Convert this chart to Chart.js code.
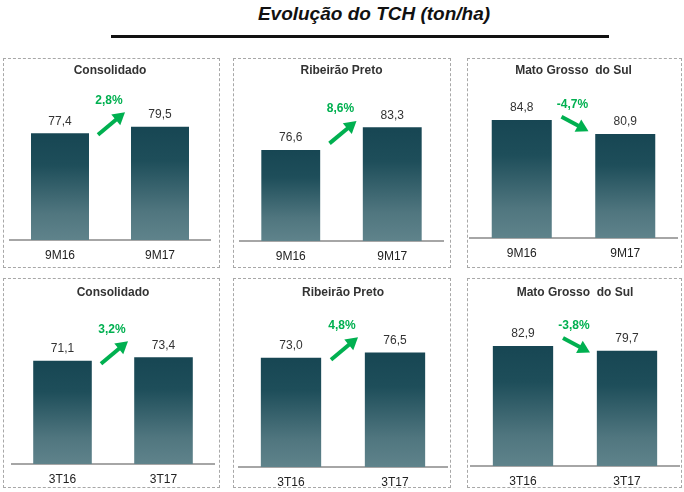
<!DOCTYPE html>
<html>
<head>
<meta charset="utf-8">
<script src="https://cdn.jsdelivr.net/npm/chart.js@4.4.0/dist/chart.umd.min.js"></script>
<style>
  html, body { margin: 0; padding: 0; background: #fff; }
  body { width: 684px; height: 492px; position: relative; overflow: hidden; font-family: "Liberation Sans", Arial, sans-serif; }
  #title { position: absolute; left: 0; width: 684px; top: 3px; text-align: center; padding-left: 64px; box-sizing: border-box;
           font-size: 19px; font-weight: bold; font-style: italic; color: #111; }
  #rule { position: absolute; left: 111px; top: 35px; width: 498px; height: 3px; background: #111; }
  .panel { position: absolute; border: 1px dashed #a8a8a8; box-sizing: border-box; }
  .panel canvas { position: absolute; left: 0; top: 0; }
</style>
</head>
<body>
<div id="title">Evolução do TCH (ton/ha)</div>
<div id="rule"></div>

<script>
// ---- data ----
var periods9M = ['9M16', '9M17'];
var periods3T = ['3T16', '3T17'];
var consolidado9M = [77.4, 79.5];
var ribeirao9M = [76.6, 83.3];
var matoGrosso9M = [84.8, 80.9];
var consolidado3T = [71.1, 73.4];
var ribeirao3T = [73.0, 76.5];
var matoGrosso3T = [82.9, 79.7];
var panelTitles = ['Consolidado', 'Ribeirão Preto', 'Mato Grosso  do Sul', 'Consolidado', 'Ribeirão Preto', 'Mato Grosso  do Sul'];
var variations = ['2,8%', '8,6%', '-4,7%', '3,2%', '4,8%', '-3,8%'];

var panels = [
    { labels: periods9M, values: consolidado9M },
    { labels: periods9M, values: ribeirao9M },
    { labels: periods9M, values: matoGrosso9M },
    { labels: periods3T, values: consolidado3T },
    { labels: periods3T, values: ribeirao3T },
    { labels: periods3T, values: matoGrosso3T }
];

// ---- layout (page pixels) ----
// base = page y of the x axis line, areaL/areaR = horizontal extent of the plot
var boxes = [
    { x: 3, y: 58, w: 217, h: 210, areaL: 10, areaR: 210, base: 240, yMin: 43.45, yMax: 88.3, titlePad: 4, tickPad: 8.5 },
    { x: 233, y: 58, w: 218, h: 210, areaL: 240, areaR: 443, base: 241, yMin: 49.74, yMax: 91.65, titlePad: 4, tickPad: 8.5 },
    { x: 467, y: 58, w: 215, h: 210, areaL: 470, areaR: 677, base: 238, yMin: 51.93, yMax: 90.65, titlePad: 4, tickPad: 8.5 },
    { x: 3, y: 278, w: 217, h: 210, areaL: 12, areaR: 214, base: 464, yMin: 0, yMax: 99.8, titlePad: 6, tickPad: 8 },
    { x: 233, y: 278, w: 218, h: 210, areaL: 239, areaR: 447, base: 467, yMin: 0, yMax: 98.8, titlePad: 6, tickPad: 8 },
    { x: 467, y: 278, w: 215, h: 210, areaL: 471, areaR: 679, base: 466, yMin: 0, yMax: 101.55, titlePad: 6, tickPad: 8 }
];

var FONT = '"Liberation Sans", Arial, sans-serif';
var GREEN = '#00b050';
var TICK_LINE = 14.4;

function fmt(v) {
    return v.toFixed(1).replace('.', ',');
}

function barGradient(ctx) {
    var chart = ctx.chart;
    if (!chart.chartArea) return '#1d4d59';
    var top = chart.scales.y.getPixelForValue(ctx.raw);
    var bottom = chart.chartArea.bottom;
    var g = chart.ctx.createLinearGradient(0, top, 0, bottom);
    g.addColorStop(0, '#174653');
    g.addColorStop(0.3, '#1e4e5a');
    g.addColorStop(0.75, '#50767f');
    g.addColorStop(1, '#5f838b');
    return g;
}

function drawArrow(c, x1, y1, x2, y2) {
    var ang = Math.atan2(y2 - y1, x2 - x1);
    var head = 12, half = 7;
    var bx = x2 - head * Math.cos(ang), by = y2 - head * Math.sin(ang);
    c.save();
    c.strokeStyle = GREEN;
    c.fillStyle = GREEN;
    c.lineWidth = 4;
    c.beginPath();
    c.moveTo(x1, y1);
    c.lineTo(bx + Math.cos(ang), by + Math.sin(ang));
    c.stroke();
    c.beginPath();
    c.moveTo(x2, y2);
    c.lineTo(bx + half * Math.sin(ang), by - half * Math.cos(ang));
    c.lineTo(bx - half * Math.sin(ang), by + half * Math.cos(ang));
    c.closePath();
    c.fill();
    c.restore();
}

// value labels, variation arrow and text
var annotations = {
    id: 'annotations',
    afterDatasetsDraw: function(chart, args, opts) {
        var c = chart.ctx;
        var meta = chart.getDatasetMeta(0);
        var vals = chart.data.datasets[0].data;
        c.save();
        c.font = '12px ' + FONT;
        c.fillStyle = '#333333';
        c.textAlign = 'center';
        c.textBaseline = 'bottom';
        meta.data.forEach(function(bar, i) {
            c.fillText(fmt(vals[i]), bar.x, bar.y - 6);
        });

        // arrow sits between the bars, a bit above their mean height
        var b1 = meta.data[0], b2 = meta.data[1];
        var mid = (b1.x + b2.x) / 2;
        var up = vals[1] >= vals[0];
        var cy = (b1.y + b2.y) / 2 - (up ? 6.5 : 3);
        var half = up ? -11.25 : 7.25;
        var x1 = mid - 12, x2 = mid + 15;
        var y1 = cy - half, y2 = cy + half;
        drawArrow(c, x1, y1, x2, y2);

        c.font = 'bold 12px ' + FONT;
        c.fillStyle = GREEN;
        c.textBaseline = 'middle';
        c.fillText(opts.text, mid - 1, Math.min(y1, y2) - 12);
        c.restore();
    }
};

panels.forEach(function(p, i) {
    var b = boxes[i];
    var div = document.createElement('div');
    div.className = 'panel';
    div.style.left = b.x + 'px';
    div.style.top = b.y + 'px';
    div.style.width = b.w + 'px';
    div.style.height = b.h + 'px';

    var canvasLeft = b.x + 1, canvasTop = b.y + 1;
    var cw = b.w - 2;
    // x axis block = label line + padding on both sides
    var axisH = TICK_LINE + 2 * b.tickPad;
    var rawH = (b.base - canvasTop) + axisH;
    var ch = Math.ceil(rawH);
    var canvas = document.createElement('canvas');
    canvas.width = cw;
    canvas.height = ch;
    canvas.style.width = cw + 'px';
    canvas.style.height = ch + 'px';
    div.appendChild(canvas);
    document.body.appendChild(div);

    new Chart(canvas.getContext('2d'), {
        type: 'bar',
        data: {
            labels: p.labels,
            datasets: [{
                data: p.values,
                backgroundColor: barGradient,
                borderWidth: 0,
                categoryPercentage: 1,
                barPercentage: 0.58
            }]
        },
        options: {
            responsive: false,
            animation: false,
            devicePixelRatio: 1,
            layout: {
                padding: {
                    left: b.areaL - canvasLeft,
                    right: canvasLeft + cw - b.areaR,
                    top: 0,
                    bottom: ch - rawH
                }
            },
            scales: {
                x: {
                    grid: { display: false, drawTicks: false },
                    border: { display: true, color: '#a6a6a6', width: 2 },
                    ticks: {
                        color: '#222222',
                        padding: b.tickPad,
                        font: { family: FONT, size: 12 }
                    }
                },
                y: {
                    display: false,
                    min: b.yMin,
                    max: b.yMax
                }
            },
            plugins: {
                legend: { display: false },
                tooltip: { enabled: false },
                title: {
                    display: true,
                    text: panelTitles[i],
                    color: '#333333',
                    font: { family: FONT, size: 12, weight: 'bold' },
                    padding: { top: b.titlePad, bottom: 40 - b.titlePad - 14.4 }
                },
                annotations: { text: variations[i] }
            }
        },
        plugins: [annotations]
    });
});
</script>
</body>
</html>
